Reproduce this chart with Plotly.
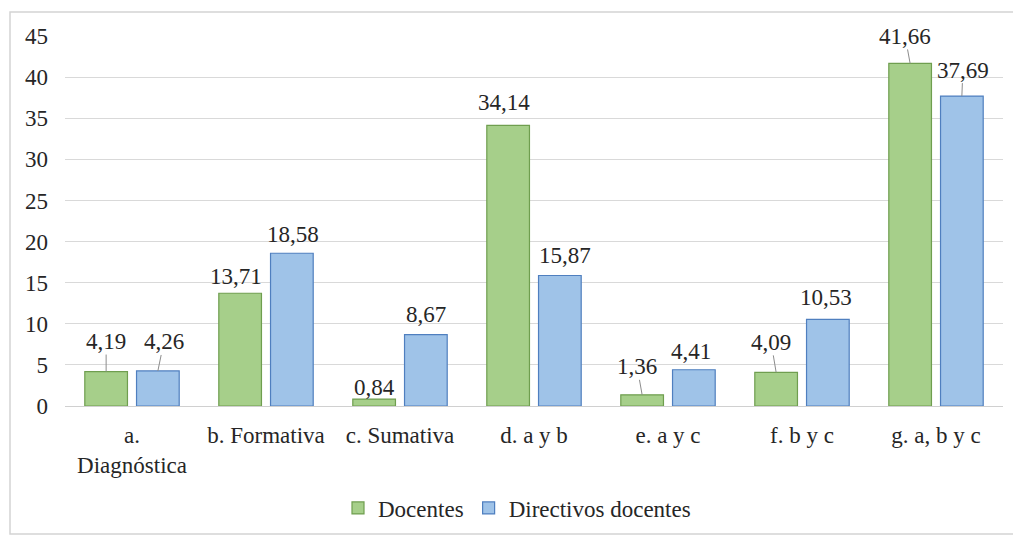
import plotly.graph_objects as go

categories = ["a.<br>Diagnóstica", "b. Formativa", "c. Sumativa", "d. a y b",
              "e. a y c", "f. b y c", "g. a, b y c"]
docentes = [4.19, 13.71, 0.84, 34.14, 1.36, 4.09, 41.66]
directivos = [4.26, 18.58, 8.67, 15.87, 4.41, 10.53, 37.69]
y_ticks = [0, 5, 10, 15, 20, 25, 30, 35, 40, 45]

# label placement (pixel offsets of the label centre from the bar top) and leader-line flags
doc_off = [(0, -30), (-4, -17), (0, -12), (-4, -23), (-5, -28), (-5, -30), (-5, -27)]
dir_off = [(6, -29), (1, -19), (0, -20), (5, -20), (-3, -18), (-2, -22), (1, -26)]
doc_line = [True, False, False, False, True, True, True]
dir_line = [True, False, False, False, False, False, True]

FONT = "'Times New Roman', 'Liberation Serif', 'DejaVu Serif', serif"
FS = 23
TXT = "#262626"
GREEN_FILL, GREEN_LINE = "#a6cf8a", "#6f9e4f"
BLUE_FILL, BLUE_LINE = "#9fc3e8", "#4f7fbf"

W, H = 1013, 535
L, R, T, B = 65, 10, 36, 129
BARGAP = 0.228

fig = go.Figure()
fig.add_trace(go.Bar(x=categories, y=docentes, name="Docentes",
                     marker=dict(color=GREEN_FILL, line=dict(color=GREEN_LINE, width=1.2))))
fig.add_trace(go.Bar(x=categories, y=directivos, name="Directivos docentes",
                     marker=dict(color=BLUE_FILL, line=dict(color=BLUE_LINE, width=1.2))))

shift = (1 - BARGAP) / 4.0
anns = []
for series, offs, lines, sgn in [(docentes, doc_off, doc_line, -1), (directivos, dir_off, dir_line, 1)]:
    for i, v in enumerate(series):
        dx, dy = offs[i]
        anns.append(dict(
            x=i + sgn * shift, y=v, xref="x", yref="y",
            text=f"{v:.2f}".replace(".", ","),
            showarrow=True, ax=dx, ay=dy, axref="pixel", ayref="pixel",
            arrowhead=0, arrowwidth=1, standoff=0, startstandoff=0,
            arrowcolor="#8c8c8c" if lines[i] else "rgba(0,0,0,0)",
            font=dict(family=FONT, size=FS, color=TXT),
            borderpad=0,
        ))

PW, PH = W - L - R, H - T - B
x0p = (10 - L) / PW
x1p = (W + 6 - L) / PW
y0p = (PH - (H - 1 - T)) / PH
y1p = (PH - (12 - T)) / PH

fig.update_layout(
    width=W, height=H,
    margin=dict(l=L, r=R, t=T, b=B, autoexpand=False),
    paper_bgcolor="white", plot_bgcolor="white",
    barmode="group", bargap=BARGAP, bargroupgap=0.175,
    font=dict(family=FONT, size=FS, color=TXT),
    showlegend=True,
    legend=dict(orientation="h", x=(338 - L) / PW, xanchor="left", y=(PH - (508 - T)) / PH,
                yanchor="middle", font=dict(family=FONT, size=FS, color=TXT), itemwidth=30,
                tracegroupgap=0),
    annotations=anns,
    shapes=[dict(type="rect", xref="paper", yref="paper", x0=x0p, x1=x1p, y0=y0p, y1=y1p,
                 line=dict(color="#d4d4d4", width=1.5), layer="below")],
    xaxis=dict(type="category", showgrid=False, zeroline=False, ticks="",
               showline=False, ticklabelstandoff=13,
               tickfont=dict(family=FONT, size=FS, color=TXT)),
    yaxis=dict(range=[0, 45], tickvals=y_ticks, showgrid=True, gridcolor="#d9d9d9",
               gridwidth=1.2, zeroline=True, zerolinecolor="#d0d0d0", zerolinewidth=1.2,
               showline=False, ticks="", ticklabelstandoff=16,
               tickfont=dict(family=FONT, size=FS, color=TXT)),
)

fig.write_html("out.html", config={"displayModeBar": False},
               post_script="document.body.style.margin='0';document.body.style.padding='0';")
